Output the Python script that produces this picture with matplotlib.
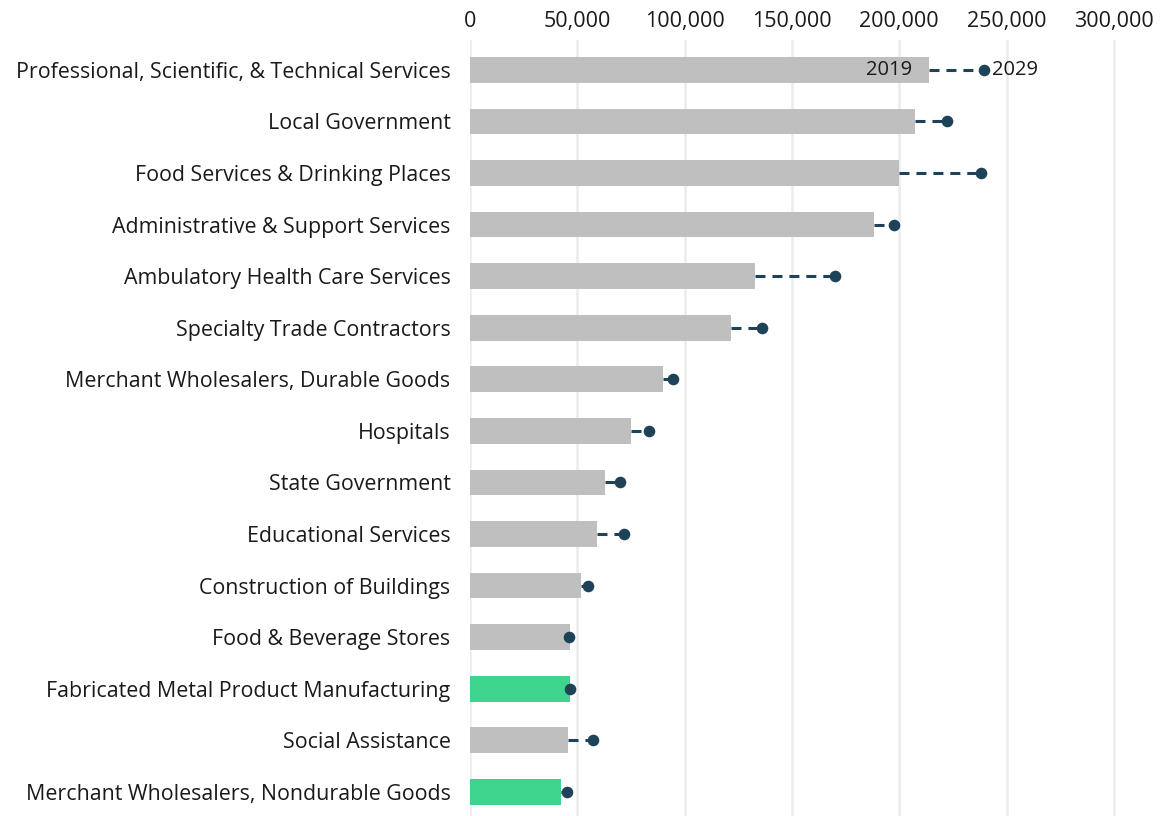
import matplotlib
matplotlib.use("Agg")
import matplotlib.pyplot as plt
from matplotlib.ticker import FuncFormatter

plt.rcParams['font.family'] = ['Open Sans', 'DejaVu Sans']
plt.rcParams['lines.scale_dashes'] = False

industries = [
    "Professional, Scientific, & Technical Services",
    "Local Government",
    "Food Services & Drinking Places",
    "Administrative & Support Services",
    "Ambulatory Health Care Services",
    "Specialty Trade Contractors",
    "Merchant Wholesalers, Durable Goods",
    "Hospitals",
    "State Government",
    "Educational Services",
    "Construction of Buildings",
    "Food & Beverage Stores",
    "Fabricated Metal Product Manufacturing",
    "Social Assistance",
    "Merchant Wholesalers, Nondurable Goods",
]
jobs_2019 = [213800, 207300, 199800, 188100, 132600, 121600, 89800,
             75200, 62900, 59300, 51900, 46600, 46600, 45500, 42500]
jobs_2029 = [239500, 222100, 237900, 197500, 170100, 136200, 94500,
             83300, 69900, 71600, 54800, 45900, 46600, 57100, 45300]
highlight = [False] * 12 + [True, False, True]

xticks = [0, 50000, 100000, 150000, 200000, 250000, 300000]

GREY = "#bfbfbf"
GREEN = "#3fd48e"
DOT = "#1e4358"

fig = plt.figure(figsize=(11.7, 8.16), dpi=100)
ax = fig.add_axes([470 / 1170, 0, 690 / 1170, 776 / 816])

ypos = list(range(len(industries)))
colors = [GREEN if h else GREY for h in highlight]

ax.barh(ypos, jobs_2019, height=0.5, color=colors, zorder=2)

# dashed connectors from the 2019 bar end to the 2029 dot
for y, a, b in zip(ypos, jobs_2019, jobs_2029):
    ax.plot([a, b], [y, y], color=DOT, lw=2.2, dashes=(7.2, 5),
            solid_capstyle='butt', dash_capstyle='butt', zorder=3)
ax.scatter(jobs_2029, ypos, s=70, color=DOT, zorder=4, linewidths=0)

# year labels on the first row
ax.text(jobs_2019[0] - 8000, 0, "2019", ha='right', va='center',
        fontsize=14.5, color='#1a1a1a', zorder=5)
ax.text(jobs_2029[0] + 3500, 0, "2029", ha='left', va='center',
        fontsize=14.5, color='#1a1a1a', zorder=5)

ax.set_xlim(0, 321500)
ax.set_ylim(14.47, -0.58)
ax.set_xticks(xticks)
ax.xaxis.set_major_formatter(FuncFormatter(lambda v, p: f"{int(v):,}"))
ax.xaxis.tick_top()
ax.tick_params(axis='x', length=0, pad=6, labelsize=15.5, labelcolor='#1a1a1a')
ax.set_yticks(ypos)
ax.set_yticklabels(industries)
ax.tick_params(axis='y', length=0, pad=14, labelsize=15.4, labelcolor='#1a1a1a')

ax.grid(axis='x', color='#ececec', lw=1.8, zorder=0)
ax.set_axisbelow(True)
for s in ax.spines.values():
    s.set_visible(False)

fig.savefig("out.png", dpi=100)
